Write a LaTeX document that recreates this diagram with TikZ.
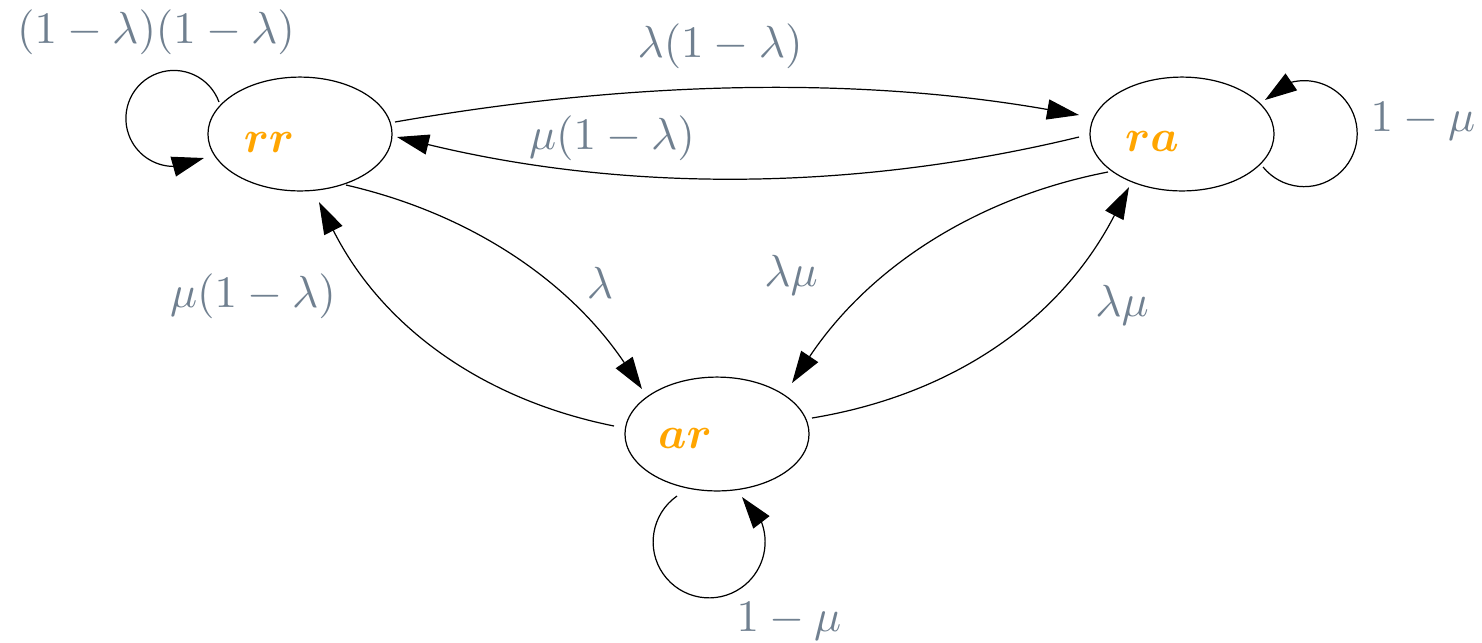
\documentclass[tikz,border=0pt]{standalone}
\usepackage{amsmath}
\usetikzlibrary{arrows.meta,shapes.geometric}
\definecolor{slate}{HTML}{708090}
\definecolor{orng}{HTML}{FFA500}
\begin{document}
\begin{tikzpicture}[x=0.22222pt,y=-0.22222pt,
  state/.style={draw, ellipse, line width=0.27pt, minimum width=40.9pt, minimum height=25.3pt, inner sep=0pt},
  ntext/.style={text=orng, anchor=base, inner sep=0pt},
  lbl/.style={text=slate, anchor=base, inner sep=0pt},
  conn/.style={line width=0.27pt, -{Triangle[length=7.1pt,width=4.5pt]}}]
\useasboundingbox (0,0) rectangle (1482,642);

\node[state] (rr) at (300,134) {};
\node[state] (ra) at (1182,134) {};
\node[state] (ar) at (717,434) {};

\node[ntext] (rrt) at ([shift={(-31,18)}]rr.center) {$\boldsymbol{rr}$};
\node[ntext] (rat) at ([shift={(-30,17)}]ra.center) {$\boldsymbol{ra}$};
\node[ntext] (art) at ([shift={(-32,14)}]ar.center) {$\boldsymbol{ar}$};

% rr <-> ra
\draw[conn] ([shift={(95,-12)}]rr.center) .. controls (623,82) and (851,75) .. ([shift={(-103,-19)}]ra.center);
\draw[conn] ([shift={(-103,3)}]ra.center) .. controls (852,192) and (624,192) .. ([shift={(97,3)}]rr.center);
% rr <-> ar
\draw[conn] ([shift={(46,51)}]rr.center) .. controls (472,214) and (570,282) .. ([shift={(-75,-45)}]ar.center);
\draw[conn] ([shift={(-103,-8)}]ar.center) .. controls (480,399) and (381,325) .. ([shift={(19,68)}]rr.center);
% ra <-> ar
\draw[conn] ([shift={(-74,38)}]ra.center) .. controls (974,198) and (868,269) .. ([shift={(75,-51)}]ar.center);
\draw[conn] ([shift={(95,-16)}]ar.center) .. controls (957,394) and (1062,317) .. ([shift={(-53,53)}]ra.center);

% loops
\draw[conn] ([shift={(-81,-32)}]rr.center) arc[start angle=-20, end angle=-270, radius=48] -- ([shift={(-96,24)}]rr.center);
\draw[conn] ([shift={(81,33)}]ra.center) arc[start angle=141, end angle=-105, radius=53] -- ([shift={(83,-34)}]ra.center);
\draw[conn] ([shift={(-40,62)}]ar.center) arc[start angle=-125, end angle=-380, radius=56] -- ([shift={(25,63)}]ar.center);

% labels
\node[lbl] (l1) at (156,43) {$(1-\lambda)(1-\lambda)$};
\node[lbl] (l2) at (720,57) {$\lambda(1-\lambda)$};
\node[lbl] (l3) at (612,149) {$\mu(1-\lambda)$};
\node[lbl] (l4) at (253,307) {$\mu(1-\lambda)$};
\node[lbl] (l5) at (600,298) {$\lambda$};
\node[lbl] (l6) at (791,286) {$\lambda\mu$};
\node[lbl] (l7) at (1122,316) {$\lambda\mu$};
\node[lbl] (l8) at (1423,131) {$1-\mu$};
\node[lbl] (l9) at (789,631) {$1-\mu$};
\end{tikzpicture}
\end{document}
